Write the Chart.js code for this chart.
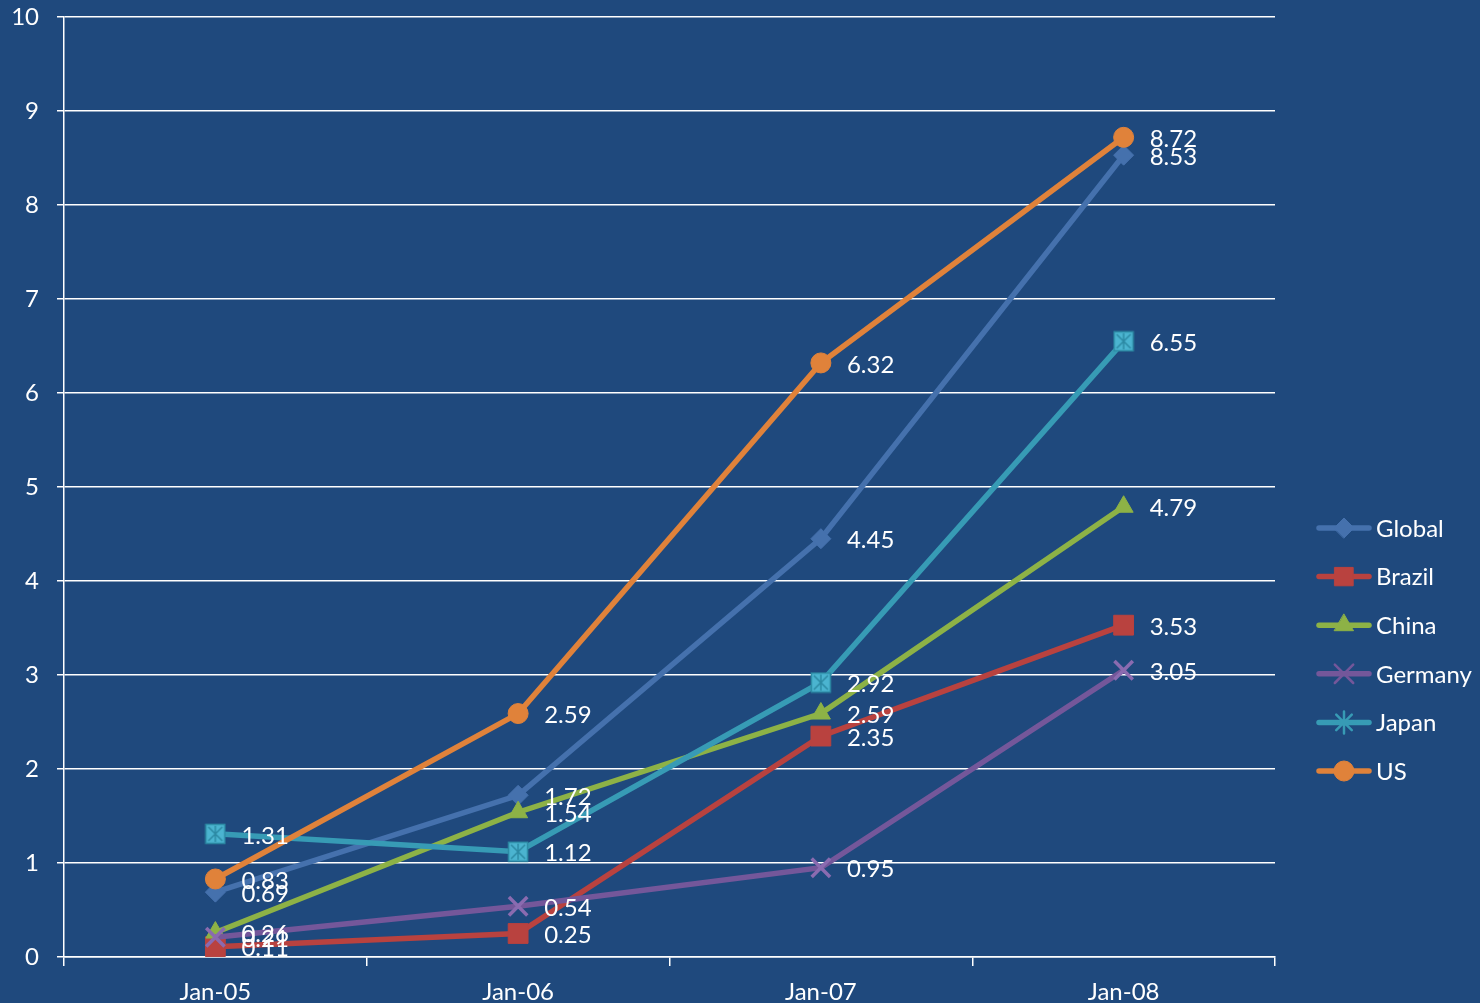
<!DOCTYPE html>
<html lang="en">
<head>
    <meta charset="UTF-8">
    <title>Growth by country</title>
    <style>
        html, body {
            margin: 0;
            padding: 0;
            background-color: #1f497d;
        }
        #chart-container {
            width: 1480px;
            height: 1003px;
        }
    </style>
</head>
<body>
    <div id="chart-container">
        <canvas id="growthChart"></canvas>
    </div>
    <script src="https://cdn.jsdelivr.net/npm/chart.js@4.4.1/dist/chart.umd.min.js"></script>
    <script>
        const periods = ['Jan-05', 'Jan-06', 'Jan-07', 'Jan-08'];
        const yTicks = [0, 1, 2, 3, 4, 5, 6, 7, 8, 9, 10];

        const globalValues  = [0.69, 1.72, 4.45, 8.53];
        const brazilValues  = [0.11, 0.25, 2.35, 3.53];
        const chinaValues   = [0.26, 1.54, 2.59, 4.79];
        const germanyValues = [0.21, 0.54, 0.95, 3.05];
        const japanValues   = [1.31, 1.12, 2.92, 6.55];
        const usValues      = [0.83, 2.59, 6.32, 8.72];

        const FONT = 'Lato, "Open Sans", sans-serif';

        // square marker with an asterisk, used for Japan points
        function japanMarker() {
            const c = document.createElement('canvas');
            c.width = 22;
            c.height = 22;
            const g = c.getContext('2d');
            g.fillStyle = '#4bb4d0';
            g.fillRect(1, 1, 20, 20);
            g.strokeStyle = '#2c8aa4';
            g.lineWidth = 1.5;
            g.strokeRect(1.5, 1.5, 19, 19);
            g.beginPath();
            g.moveTo(11, 3); g.lineTo(11, 19);
            g.moveTo(4, 4); g.lineTo(18, 18);
            g.moveTo(18, 4); g.lineTo(4, 18);
            g.stroke();
            return c;
        }

        const series = [
            { label: 'Global',  data: globalValues,  color: '#4571ad', fill: '#4571ad', style: 'rectRot',  radius: 10, legendStyle: 'rectRot', legendRadius: 10 },
            { label: 'Brazil',  data: brazilValues,  color: '#b9423f', fill: '#b9423f', style: 'rect',     radius: 14, legendStyle: 'rect', legendRadius: 13 },
            { label: 'China',   data: chinaValues,   color: '#8db246', fill: '#8db246', style: 'triangle', radius: 11, legendStyle: 'triangle', legendRadius: 11 },
            { label: 'Germany', data: germanyValues, color: '#74579a', fill: '#8a6bb0', style: 'crossRot', radius: 13, legendStyle: 'crossRot', legendRadius: 13 },
            { label: 'Japan',   data: japanValues,   color: '#379bb5', fill: '#4bb4d0', style: japanMarker(), radius: 11, legendStyle: 'star', legendRadius: 11 },
            { label: 'US',      data: usValues,      color: '#e0823a', fill: '#e0823a', style: 'circle',   radius: 10, legendStyle: 'circle', legendRadius: 10 }
        ];

        // value text to the right of every point
        const pointValues = {
            id: 'pointValues',
            afterDatasetsDraw(chart) {
                const ctx = chart.ctx;
                ctx.save();
                ctx.font = '24px ' + FONT;
                ctx.fillStyle = '#ffffff';
                ctx.textAlign = 'left';
                ctx.textBaseline = 'middle';
                chart.data.datasets.forEach((ds, i) => {
                    chart.getDatasetMeta(i).data.forEach((pt, j) => {
                        ctx.fillText(ds.data[j].toFixed(2), pt.x + 26, pt.y + 2);
                    });
                });
                ctx.restore();
            }
        };

        // legend on the right: line sample with marker, then name
        const sideLegend = {
            id: 'sideLegend',
            afterDraw(chart) {
                const ctx = chart.ctx;
                const left = chart.chartArea.right + 44;
                const top = 528;
                const step = 48.6;
                ctx.save();
                ctx.font = '24px ' + FONT;
                ctx.textAlign = 'left';
                ctx.textBaseline = 'middle';
                series.forEach((s, i) => {
                    const y = top + i * step;
                    ctx.strokeStyle = s.color;
                    ctx.lineWidth = 5.5;
                    ctx.lineCap = 'round';
                    ctx.beginPath();
                    ctx.moveTo(left, y);
                    ctx.lineTo(left + 50, y);
                    ctx.stroke();
                    ctx.fillStyle = s.color;
                    ctx.lineWidth = s.legendStyle === 'crossRot' || s.legendStyle === 'star' ? 2.5 : 1;
                    Chart.helpers.drawPoint(ctx, {
                        pointStyle: s.legendStyle,
                        radius: s.legendRadius,
                        rotation: 0,
                        borderWidth: ctx.lineWidth
                    }, left + 25, y);
                    ctx.fillStyle = '#ffffff';
                    ctx.fillText(s.label, left + 57, y + 1);
                });
                ctx.restore();
            }
        };

        const datasets = series.map((s, i) => ({
            label: s.label,
            data: s.data,
            borderColor: s.color,
            backgroundColor: s.fill,
            borderWidth: 5.5,
            pointStyle: s.style,
            pointRadius: s.radius,
            pointBackgroundColor: s.fill,
            pointBorderColor: s.style === 'crossRot' ? s.fill : s.color,
            pointBorderWidth: s.style === 'crossRot' ? 3.5 : 1,
            tension: 0,
            order: series.length - i
        }));

        new Chart(document.getElementById('growthChart'), {
            type: 'line',
            data: { labels: periods, datasets: datasets },
            options: {
                responsive: true,
                maintainAspectRatio: false,
                animation: false,
                layout: { padding: { top: 17, right: 205, left: 0, bottom: 0 } },
                plugins: {
                    legend: { display: false },
                    tooltip: { enabled: false }
                },
                scales: {
                    x: {
                        type: 'category',
                        offset: true,
                        grid: {
                            offset: true,
                            drawOnChartArea: false,
                            drawTicks: true,
                            tickLength: 9,
                            color: '#ffffff',
                            lineWidth: 1.5
                        },
                        border: { color: '#ffffff', width: 1.5 },
                        ticks: {
                            color: '#ffffff',
                            font: { family: FONT, size: 24 },
                            padding: 12,
                            maxRotation: 0
                        },
                        afterFit(scale) {
                            scale.height = 46;
                            scale.paddingLeft = 0;
                            scale.paddingRight = 0;
                        }
                    },
                    y: {
                        min: 0,
                        max: 10,
                        afterBuildTicks(scale) { scale.ticks = yTicks.map(v => ({ value: v })); },
                        grid: {
                            color: '#ffffff',
                            lineWidth: 1.5,
                            tickLength: 7
                        },
                        border: { color: '#ffffff', width: 1.5 },
                        ticks: {
                            color: '#ffffff',
                            font: { family: FONT, size: 24 },
                            padding: 18
                        },
                        afterFit(scale) {
                            scale.width = 64;
                            scale.paddingTop = 0;
                            scale.paddingBottom = 0;
                        }
                    }
                }
            },
            plugins: [pointValues, sideLegend]
        });
    </script>
</body>
</html>
